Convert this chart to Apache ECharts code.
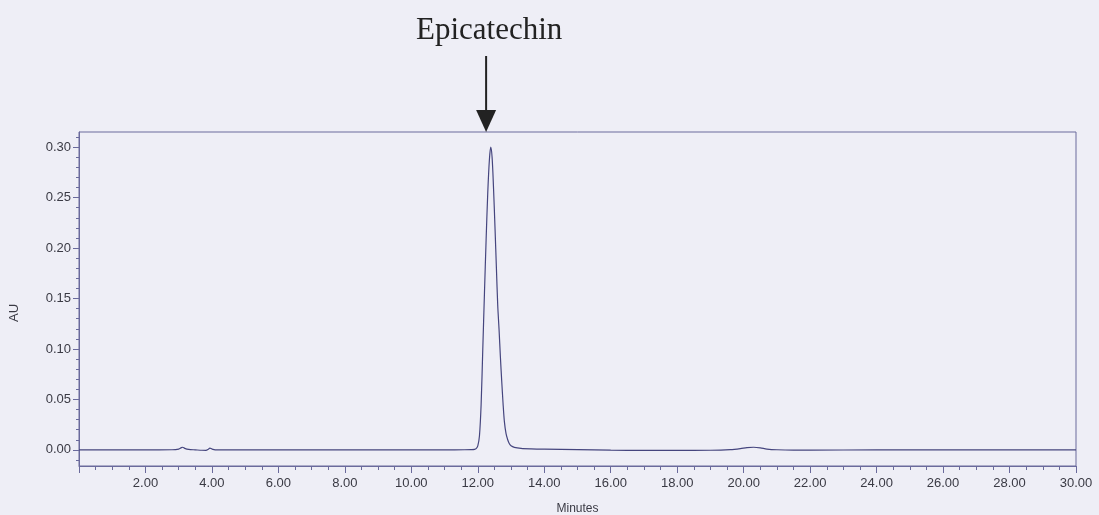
<!DOCTYPE html>
<html><head><meta charset="utf-8">
<script src="https://cdn.jsdelivr.net/npm/echarts@6/dist/echarts.min.js"></script>
<style>html,body{margin:0;padding:0;background:#eeeef6;}#c{width:1099px;height:515px;}</style>
</head><body><div id="c"></div>
<script>
// retention time (min) and absorbance (AU)
const times = [0.0,1.0,2.0,2.8,3.0,3.08,3.12,3.18,3.3,3.5,3.7,3.82,3.88,3.94,4.0,4.1,4.5,6.0,8.0,10.0,11.0,11.6,11.8,11.9,11.95,12.0,12.05,12.1,12.15,12.2,12.25,12.3,12.35,12.39,12.43,12.47,12.52,12.56,12.6,12.64,12.68,12.72,12.76,12.8,12.85,12.9,12.95,13.0,13.1,13.3,13.6,14.0,15.0,16.0,17.0,18.0,19.0,19.6,19.9,20.1,20.3,20.5,20.7,21.0,21.5,22.0,24.0,26.0,28.0,30.0];
const absorbance = [0.0,0.0,0.0,0.0001,0.0008,0.0022,0.0026,0.0015,0.0004,0.0,-0.0004,-0.0005,0.0003,0.0018,0.0008,0.0,0.0,0.0,0.0,0.0,0.0,0.0001,0.0002,0.0004,0.0012,0.004,0.014,0.045,0.1,0.155,0.208,0.255,0.288,0.3,0.29,0.262,0.218,0.18,0.143,0.119,0.092,0.068,0.046,0.028,0.016,0.01,0.006,0.004,0.0025,0.0015,0.001,0.0007,0.0003,-0.0003,-0.0005,-0.0005,-0.0004,0.0002,0.0012,0.0022,0.0026,0.002,0.0008,0.0001,-0.0002,-0.0002,-0.0001,-0.0001,0.0,0.0];
const yTicks = [0.00,0.05,0.10,0.15,0.20,0.25,0.30];
const yMinorTicks = [-0.01,0.01,0.02,0.03,0.04,0.06,0.07,0.08,0.09,0.11,0.12,0.13,0.14,0.16,0.17,0.18,0.19,0.21,0.22,0.23,0.24,0.26,0.27,0.28,0.29,0.31];
const peakName = 'Epicatechin';
const peakTime = 12.25;

const axisColor = '#6a6a9c';
const textColor = '#3a3a44';
const chart = echarts.init(document.getElementById('c'), null, {renderer:'canvas'});
const option = {
  backgroundColor: '#eeeef6',
  animation: false,
  grid: {left: 79, right: 23, top: 132, bottom: 49, show: true, borderColor: axisColor, borderWidth: 1, containLabel: false, outerBoundsMode: 'none'},
  xAxis: {
    type: 'value', min: 0, max: 30, interval: 2,
    name: 'Minutes', nameLocation: 'middle', nameGap: 37,
    nameTextStyle: {fontFamily: 'Liberation Sans', fontSize: 12, color: textColor},
    axisLine: {show: true, onZero: false, lineStyle: {color: axisColor, width: 1}},
    axisTick: {show: true, length: 7, lineStyle: {color: axisColor}},
    minorTick: {show: true, splitNumber: 4, length: 4, lineStyle: {color: axisColor}},
    splitLine: {show: false},
    axisLabel: {showMinLabel: false, margin: 11, fontFamily: 'Liberation Sans', fontSize: 13, color: textColor,
      formatter: v => v.toFixed(2)}
  },
  yAxis: [{
    type: 'value', min: -0.016, max: 0.315,
    name: 'AU', nameLocation: 'middle', nameGap: 58, nameRotate: 90,
    nameTextStyle: {fontFamily: 'Liberation Sans', fontSize: 13, color: textColor, padding: [0, 28, 0, 0]},
    axisLine: {show: true, onZero: false, lineStyle: {color: axisColor, width: 1}},
    axisTick: {show: true, length: 6, customValues: yTicks, lineStyle: {color: axisColor}},
    splitLine: {show: false},
    axisLabel: {customValues: yTicks, margin: 8, fontFamily: 'Liberation Sans', fontSize: 13, color: textColor,
      formatter: v => v.toFixed(2)}
  }, {
    type: 'value', min: -0.016, max: 0.315, position: 'left', offset: 0,
    axisLine: {show: false, onZero: false},
    axisTick: {show: true, length: 3, customValues: yMinorTicks, lineStyle: {color: axisColor}},
    axisLabel: {show: false, customValues: yMinorTicks},
    splitLine: {show: false}
  }],
  series: [{
    type: 'line', data: times.map((t, i) => [t, absorbance[i]]),
    showSymbol: false, smooth: 0.3, lineStyle: {color: '#45457e', width: 1.2}
  }]
};
chart.setOption(option);
const peakPx = chart.convertToPixel({xAxisIndex: 0}, peakTime);
const gridTopPx = chart.convertToPixel({yAxisIndex: 0}, 0.315);
chart.setOption({
  graphic: [
    {type: 'text', x: peakPx + 3, y: 15, style: {text: peakName, font: '31px "Liberation Serif"', fill: '#222', align: 'center', verticalAlign: 'top'}},
    {type: 'line', shape: {x1: peakPx, y1: 56, x2: peakPx, y2: gridTopPx - 20}, style: {stroke: '#222', lineWidth: 2}},
    {type: 'polygon', shape: {points: [[peakPx - 10, gridTopPx - 22], [peakPx + 10, gridTopPx - 22], [peakPx, gridTopPx]]}, style: {fill: '#222'}}
  ]
});
</script></body></html>
